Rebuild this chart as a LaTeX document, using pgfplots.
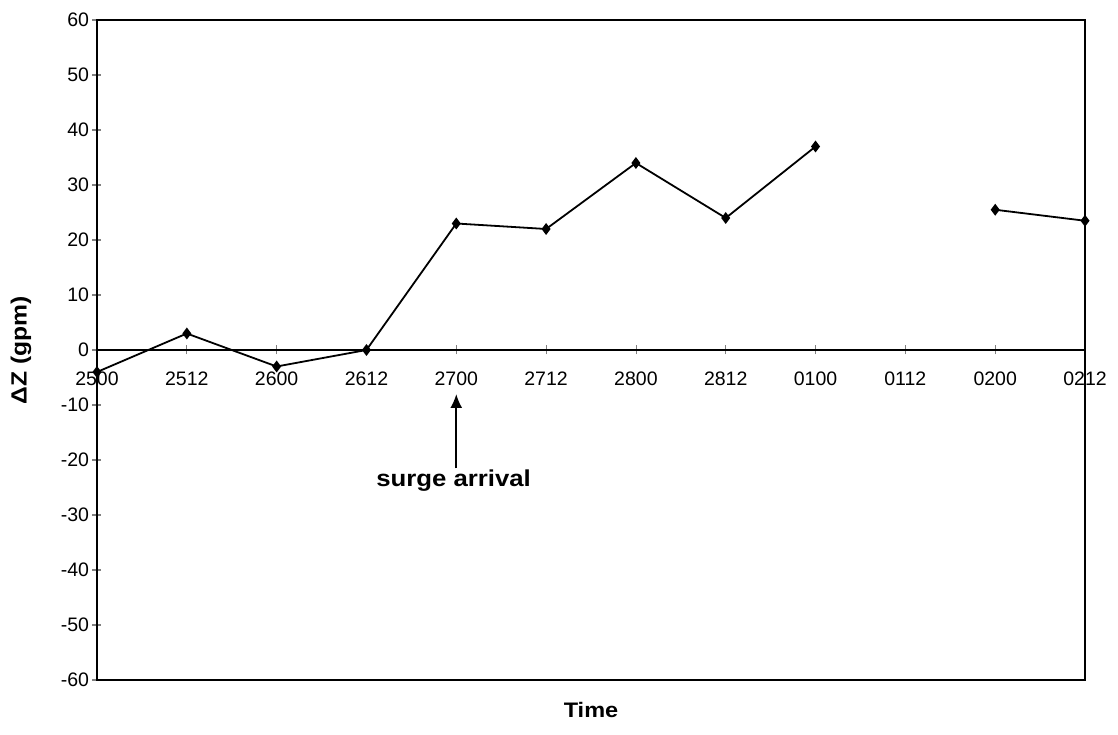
\documentclass[border=0pt]{standalone}
\usepackage{fontspec}
\setmainfont{Liberation Sans}
\newfontfamily\widesans{Liberation Sans}[FakeStretch=1.12]
\usepackage{pgfplots}
\pgfplotsset{compat=1.18}
\usetikzlibrary{arrows.meta}

\begin{document}
\begin{tikzpicture}
\begin{axis}[
name=ax,
scale only axis,
width=988pt, height=660pt,
xmin=0, xmax=11,
ymin=-60, ymax=60,
axis x line*=middle,
axis y line*=left,
hide obscured x ticks=false,
hide obscured y ticks=false,
axis line style={line width=1.7pt},
xtick={0,...,11},
xticklabels={2500,2512,2600,2612,2700,2712,2800,2812,0100,0112,0200,0212},
ytick={-60,-50,...,60},
tick align=center,
major tick length=9pt,
x tick style={line width=0.7pt},
y tick style={line width=1.2pt},
/pgf/number format/assume math mode=true,
every tick label/.append style={font=\fontsize{19.5}{22}\selectfont},
xticklabel style={yshift=-14pt},
unbounded coords=jump,
clip=false,
every axis x label/.style={at={(rel axis cs:0.5,0)}, yshift=-30pt, anchor=center},
every axis y label/.style={at={(rel axis cs:0,0.5)}, xshift=-76pt, rotate=90, anchor=center},
xlabel={\widesans\fontsize{21}{24}\selectfont\bfseries Time},
ylabel={\widesans\fontsize{22}{24}\selectfont\bfseries ΔZ (gpm)},
]
\draw[line width=1.7pt] (rel axis cs:0,0) rectangle (rel axis cs:1,1);

\addplot[black, line width=1.8pt, mark=diamond*, mark size=4.5pt] coordinates {
(0,-4) (1,3) (2,-3) (3,0) (4,23) (5,22) (6,34) (7,24) (8,37) (9,nan) (10,25.5) (11,23.5)
};

% annotation
\draw[line width=1.8pt, -{Latex[length=14pt,width=12pt]}] (axis cs:4,-21.5) -- (axis cs:4,-8);
\node[font=\widesans\fontsize{23}{25}\selectfont\bfseries] at (axis cs:3.97,-23.8) {surge arrival};
\end{axis}
\path (ax.south west) +(-97pt,-54pt) rectangle ([shift={(33pt,20pt)}]ax.north east);
\end{tikzpicture}
\end{document}
